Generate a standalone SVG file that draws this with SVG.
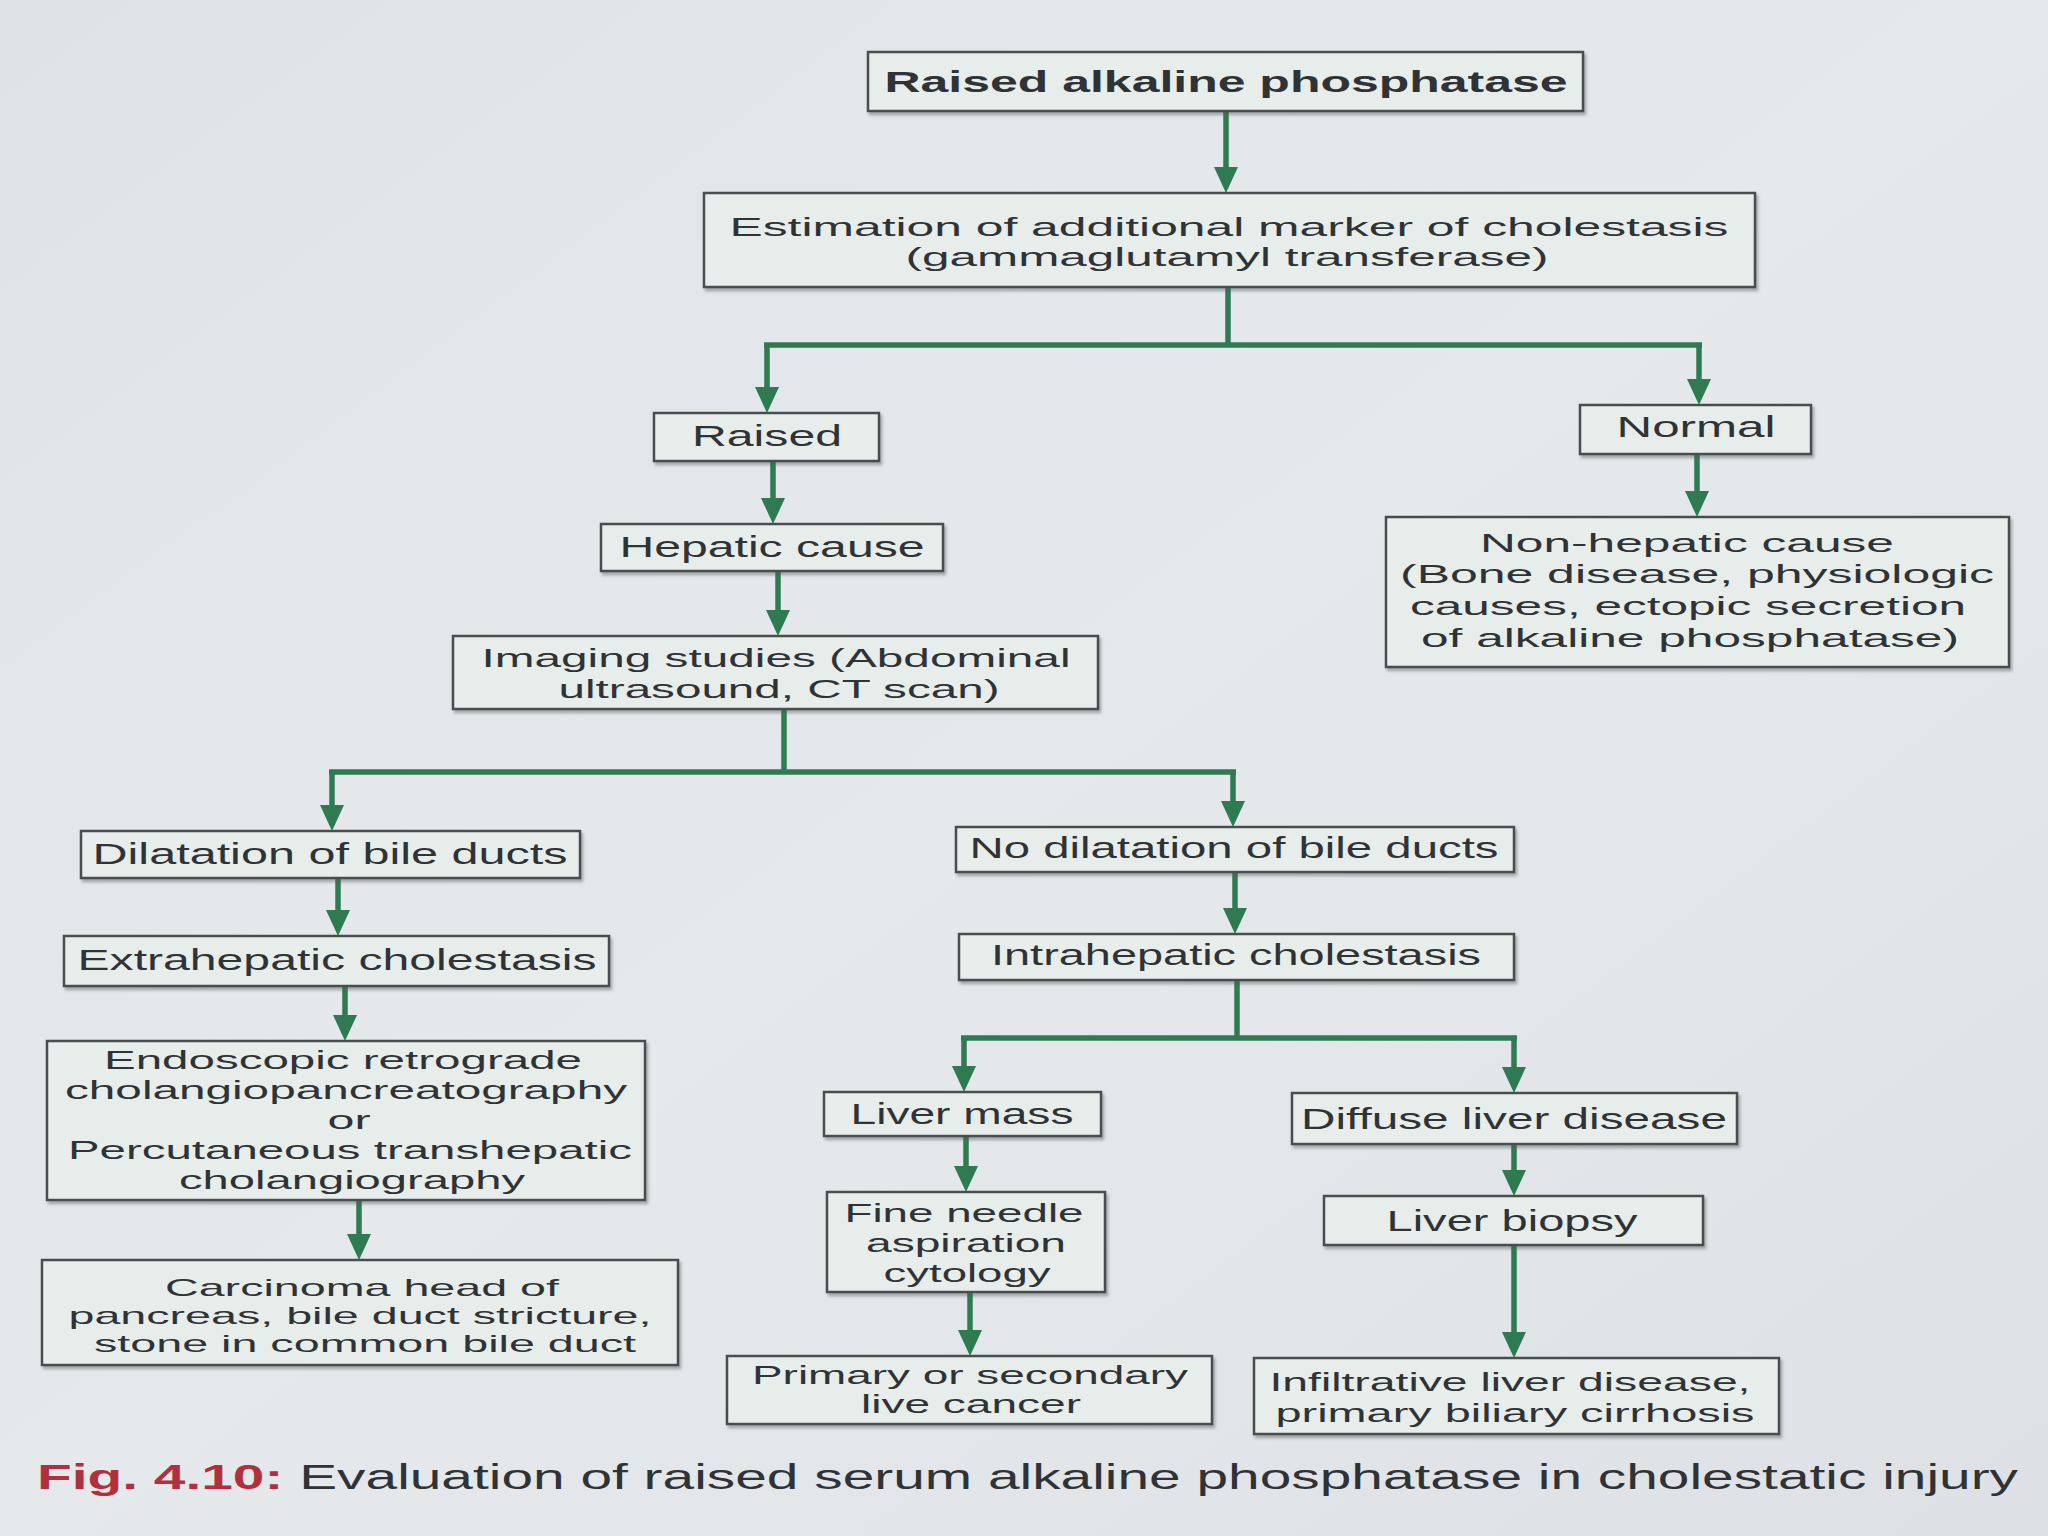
<svg xmlns="http://www.w3.org/2000/svg" width="2048" height="1536" viewBox="0 0 2048 1536">
<defs>
<style>
.bx{fill:#e7edeb;stroke:#4a4d50;stroke-width:2.5;filter:url(#sh)}
.t{font-family:"Liberation Sans",Arial,sans-serif;font-size:29px;fill:#2f3336;text-anchor:middle}
.m{font-size:26px}
.s{font-size:24px}
.tb{font-weight:bold}
.ln{fill:none;stroke:#2e7b52;stroke-width:5.5;stroke-linejoin:miter}
.ar{marker-end:url(#ah)}
.cap{font-family:"Liberation Sans",Arial,sans-serif;font-size:35px;fill:#2f3336}
</style>
<filter id="sh" x="-5%" y="-10%" width="110%" height="130%">
<feDropShadow dx="2" dy="3" stdDeviation="1.5" flood-color="#50565a" flood-opacity="0.45"/>
</filter>
<marker id="ah" viewBox="0 0 26 24" refX="20" refY="12" markerWidth="26" markerHeight="24" markerUnits="userSpaceOnUse" orient="auto">
<path d="M0,0 L26,12 L0,24 z" fill="#2e7b52"/>
</marker>
<linearGradient id="bg" x1="0" y1="0" x2="1" y2="1">
<stop offset="0" stop-color="#dfe3e7"/>
<stop offset="0.5" stop-color="#e6e9ec"/>
<stop offset="1" stop-color="#dde1e5"/>
</linearGradient>
</defs>
<rect x="0" y="0" width="2048" height="1536" fill="url(#bg)"/>

<g id="connectors">
<path class="ln ar" d="M1226,111 V187"/>
<path class="ln" d="M1228,287 V345 M764,345 H1702"/>
<path class="ln ar" d="M767,343 V407"/>
<path class="ln ar" d="M1699,343 V399"/>
<path class="ln ar" d="M773,461 V518"/>
<path class="ln ar" d="M1697,454 V511"/>
<path class="ln ar" d="M778,571 V630"/>
<path class="ln" d="M784,709 V772 M329,772 H1236"/>
<path class="ln ar" d="M332,770 V825"/>
<path class="ln ar" d="M1233,770 V821"/>
<path class="ln ar" d="M338,878 V930"/>
<path class="ln ar" d="M1235,872 V928"/>
<path class="ln ar" d="M345,986 V1035"/>
<path class="ln" d="M1237,980 V1038 M961,1038 H1517"/>
<path class="ln ar" d="M964,1036 V1086"/>
<path class="ln ar" d="M1514,1036 V1087"/>
<path class="ln ar" d="M359,1200 V1254"/>
<path class="ln ar" d="M966,1136 V1186"/>
<path class="ln ar" d="M1514,1144 V1190"/>
<path class="ln ar" d="M970,1292 V1350"/>
<path class="ln ar" d="M1514,1245 V1352"/>
</g>

<g id="n1"><rect class="bx" x="868" y="52" width="715" height="59"/>
<text class="t tb" x="1226" y="92" textLength="683" lengthAdjust="spacingAndGlyphs">Raised alkaline phosphatase</text></g>

<g id="n2"><rect class="bx" x="704" y="193" width="1051" height="94"/>
<text class="t m" x="1229" y="236" textLength="999" lengthAdjust="spacingAndGlyphs">Estimation of additional marker of cholestasis</text>
<text class="t m" x="1227" y="266" textLength="643" lengthAdjust="spacingAndGlyphs">(gammaglutamyl transferase)</text></g>

<g id="n3"><rect class="bx" x="654" y="413" width="225" height="48"/>
<text class="t" x="767" y="446" textLength="150" lengthAdjust="spacingAndGlyphs">Raised</text></g>

<g id="n4"><rect class="bx" x="1580" y="405" width="231" height="49"/>
<text class="t" x="1696" y="437" textLength="159" lengthAdjust="spacingAndGlyphs">Normal</text></g>

<g id="n5"><rect class="bx" x="601" y="524" width="342" height="47"/>
<text class="t" x="772" y="557" textLength="305" lengthAdjust="spacingAndGlyphs">Hepatic cause</text></g>

<g id="n6"><rect class="bx" x="1386" y="517" width="623" height="150"/>
<text class="t m" x="1687" y="552" textLength="414" lengthAdjust="spacingAndGlyphs">Non-hepatic cause</text>
<text class="t m" x="1697" y="583" textLength="594" lengthAdjust="spacingAndGlyphs">(Bone disease, physiologic</text>
<text class="t m" x="1688" y="615" textLength="556" lengthAdjust="spacingAndGlyphs">causes, ectopic secretion</text>
<text class="t m" x="1690" y="647" textLength="538" lengthAdjust="spacingAndGlyphs">of alkaline phosphatase)</text></g>

<g id="n7"><rect class="bx" x="453" y="636" width="645" height="73"/>
<text class="t m" x="776" y="667" textLength="589" lengthAdjust="spacingAndGlyphs">Imaging studies (Abdominal</text>
<text class="t m" x="779" y="698" textLength="441" lengthAdjust="spacingAndGlyphs">ultrasound, CT scan)</text></g>

<g id="n8"><rect class="bx" x="81" y="831" width="499" height="47"/>
<text class="t" x="330" y="864" textLength="475" lengthAdjust="spacingAndGlyphs">Dilatation of bile ducts</text></g>

<g id="n9"><rect class="bx" x="956" y="827" width="558" height="45"/>
<text class="t" x="1234" y="858" textLength="529" lengthAdjust="spacingAndGlyphs">No dilatation of bile ducts</text></g>

<g id="n10"><rect class="bx" x="64" y="936" width="545" height="50"/>
<text class="t" x="337" y="970" textLength="519" lengthAdjust="spacingAndGlyphs">Extrahepatic cholestasis</text></g>

<g id="n11"><rect class="bx" x="959" y="934" width="555" height="46"/>
<text class="t" x="1236" y="965" textLength="490" lengthAdjust="spacingAndGlyphs">Intrahepatic cholestasis</text></g>

<g id="n12"><rect class="bx" x="47" y="1041" width="598" height="159"/>
<text class="t m" x="343" y="1069" textLength="478" lengthAdjust="spacingAndGlyphs">Endoscopic retrograde</text>
<text class="t m" x="346" y="1099" textLength="562" lengthAdjust="spacingAndGlyphs">cholangiopancreatography</text>
<text class="t m" x="349" y="1129" textLength="43" lengthAdjust="spacingAndGlyphs">or</text>
<text class="t m" x="350" y="1159" textLength="564" lengthAdjust="spacingAndGlyphs">Percutaneous transhepatic</text>
<text class="t m" x="352" y="1189" textLength="346" lengthAdjust="spacingAndGlyphs">cholangiography</text></g>

<g id="n13"><rect class="bx" x="824" y="1092" width="277" height="44"/>
<text class="t" x="962" y="1124" textLength="223" lengthAdjust="spacingAndGlyphs">Liver mass</text></g>

<g id="n14"><rect class="bx" x="1292" y="1093" width="445" height="51"/>
<text class="t" x="1514" y="1129" textLength="426" lengthAdjust="spacingAndGlyphs">Diffuse liver disease</text></g>

<g id="n15"><rect class="bx" x="827" y="1192" width="278" height="100"/>
<text class="t m" x="964" y="1222" textLength="239" lengthAdjust="spacingAndGlyphs">Fine needle</text>
<text class="t m" x="966" y="1252" textLength="200" lengthAdjust="spacingAndGlyphs">aspiration</text>
<text class="t m" x="967" y="1282" textLength="167" lengthAdjust="spacingAndGlyphs">cytology</text></g>

<g id="n16"><rect class="bx" x="1324" y="1196" width="379" height="49"/>
<text class="t" x="1512" y="1231" textLength="251" lengthAdjust="spacingAndGlyphs">Liver biopsy</text></g>

<g id="n17"><rect class="bx" x="42" y="1260" width="636" height="105"/>
<text class="t s" x="362" y="1296" textLength="394" lengthAdjust="spacingAndGlyphs">Carcinoma head of</text>
<text class="t s" x="360" y="1324" textLength="583" lengthAdjust="spacingAndGlyphs">pancreas, bile duct stricture,</text>
<text class="t s" x="365" y="1352" textLength="542" lengthAdjust="spacingAndGlyphs">stone in common bile duct</text></g>

<g id="n18"><rect class="bx" x="727" y="1356" width="485" height="68"/>
<text class="t m" x="970" y="1384" textLength="436" lengthAdjust="spacingAndGlyphs">Primary or secondary</text>
<text class="t m" x="971" y="1413" textLength="220" lengthAdjust="spacingAndGlyphs">live cancer</text></g>

<g id="n19"><rect class="bx" x="1254" y="1358" width="525" height="76"/>
<text class="t m" x="1510" y="1391" textLength="481" lengthAdjust="spacingAndGlyphs">Infiltrative liver disease,</text>
<text class="t m" x="1515" y="1422" textLength="479" lengthAdjust="spacingAndGlyphs">primary biliary cirrhosis</text></g>

<g id="caption">
<text class="cap" x="37" y="1489" textLength="1981" lengthAdjust="spacingAndGlyphs"><tspan fill="#b0303e" font-weight="bold">Fig. 4.10:</tspan> Evaluation of raised serum alkaline phosphatase in cholestatic injury</text>
</g>
</svg>
